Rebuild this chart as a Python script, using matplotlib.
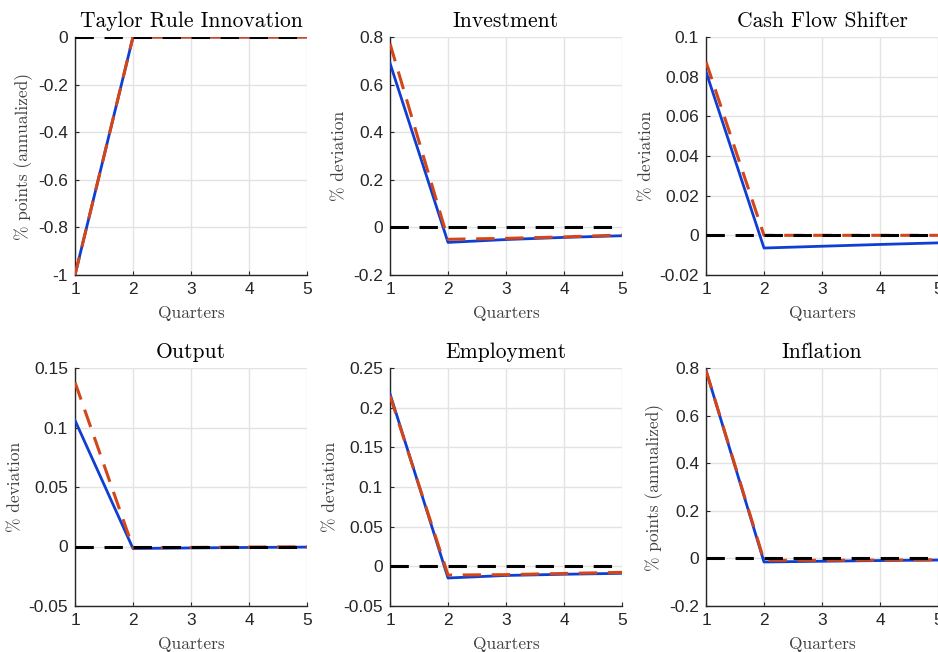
import numpy as np
import matplotlib
matplotlib.use('Agg')
import matplotlib.pyplot as plt

# 분기
quarters = [1, 2, 3, 4, 5]

titles = ['Taylor Rule Innovation', 'Investment', 'Cash Flow Shifter',
          'Output', 'Employment', 'Inflation']
ylabels = ['% points (annualized)', '% deviation', '% deviation',
           '% deviation', '% deviation', '% points (annualized)']

# 파란 실선
taylor_blue = [-1.0, 0.0, 0.0, 0.0, 0.0]
invest_blue = [0.69, -0.063, -0.051, -0.042, -0.035]
cash_blue = [0.0825, -0.0064, -0.0055, -0.0046, -0.0038]
output_blue = [0.106, -0.0017, -0.0012, -0.0008, -0.0005]
employ_blue = [0.2175, -0.0147, -0.0115, -0.010, -0.0088]
infl_blue = [0.79, -0.015, -0.012, -0.009, -0.007]

# 빨간 점선
taylor_red = [-1.0, 0.0, 0.0, 0.0, 0.0]
invest_red = [0.772, -0.050, -0.046, -0.040, -0.032]
cash_red = [0.0875, 0.0, 0.0, 0.0, 0.0]
output_red = [0.138, -0.001, -0.0008, -0.0005, -0.0003]
employ_red = [0.215, -0.011, -0.0105, -0.009, -0.0076]
infl_red = [0.79, -0.008, -0.008, -0.007, -0.006]

blues = [taylor_blue, invest_blue, cash_blue, output_blue, employ_blue, infl_blue]
reds = [taylor_red, invest_red, cash_red, output_red, employ_red, infl_red]

ylims = [(-1, 0), (-0.2, 0.8), (-0.02, 0.1), (-0.05, 0.15), (-0.05, 0.25), (-0.2, 0.8)]
yticks = [[-1, -0.8, -0.6, -0.4, -0.2, 0],
          [-0.2, 0, 0.2, 0.4, 0.6, 0.8],
          [-0.02, 0, 0.02, 0.04, 0.06, 0.08, 0.1],
          [-0.05, 0, 0.05, 0.1, 0.15],
          [-0.05, 0, 0.05, 0.1, 0.15, 0.2, 0.25],
          [-0.2, 0, 0.2, 0.4, 0.6, 0.8]]

W, H = 938, 652
fig = plt.figure(figsize=(W / 100, H / 100), dpi=100)

lefts = [75, 390, 706]
tops = [37, 368]
aw, ah = 232, 238

serif = 'cmr10'
sans = 'Liberation Sans'

for i in range(6):
    r, c = divmod(i, 3)
    ax = fig.add_axes([lefts[c] / W, 1 - (tops[r] + ah) / H, aw / W, ah / H])
    ax.plot(quarters, blues[i], color='#0f3fd2', lw=2.0, zorder=3)
    ax.plot(quarters, reds[i], color='#d2461a', lw=2.2, ls=(0, (6, 3.5)), zorder=4)
    ax.plot(quarters, np.zeros(len(quarters)), color='black', lw=2.2,
            ls=(0, (6, 3.5)), zorder=5)
    ax.set_xlim(1, 5)
    ax.set_ylim(*ylims[i])
    ax.set_xticks(quarters)
    ax.set_yticks(yticks[i])
    ax.set_yticklabels(['%g' % v for v in yticks[i]])
    ax.grid(True, color='#e3e3e3', lw=1.0)
    ax.set_axisbelow(True)
    for s in ['top', 'right']:
        ax.spines[s].set_visible(False)
    for s in ['left', 'bottom']:
        ax.spines[s].set_color('#262626')
        ax.spines[s].set_linewidth(1.0)
    ax.tick_params(direction='in', length=3, colors='#262626', labelsize=12.5, pad=5)
    for lab in ax.get_xticklabels() + ax.get_yticklabels():
        lab.set_fontfamily(sans)
    ax.set_title(titles[i], fontfamily=serif, fontsize=15.5, pad=7)
    ax.set_xlabel('Quarters', fontfamily=serif, fontsize=12.5, color='#404040', labelpad=6)
    ax.set_ylabel(ylabels[i], fontfamily=serif, fontsize=12.5, color='#404040', labelpad=4)

plt.savefig('out.png', dpi=100)
